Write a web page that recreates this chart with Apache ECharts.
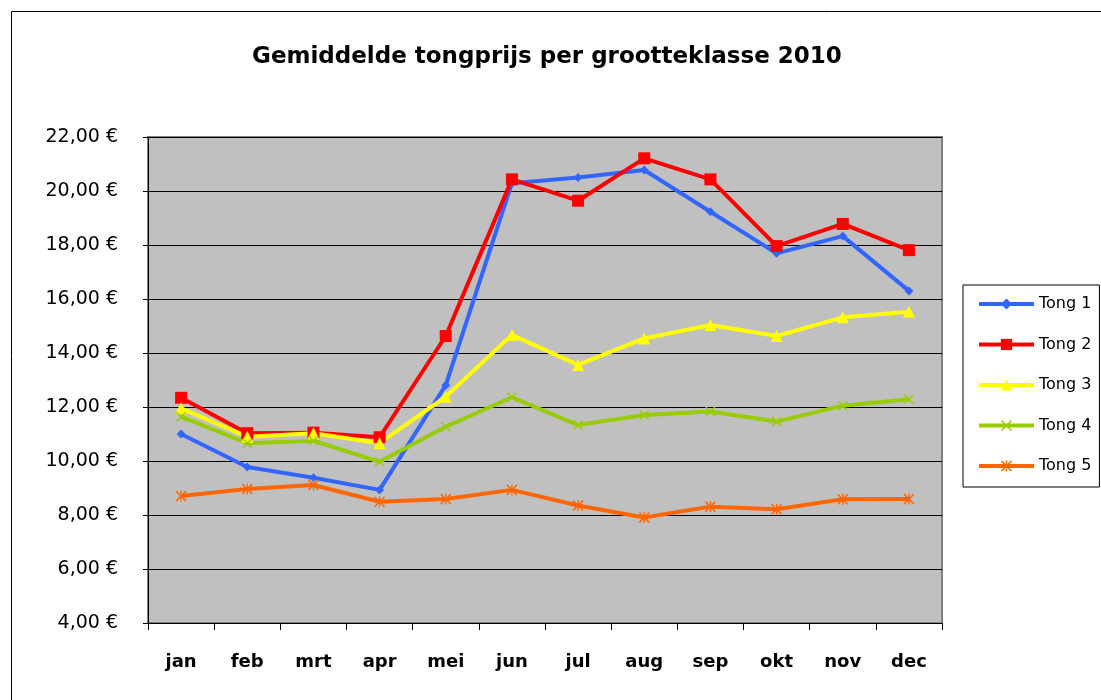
<!DOCTYPE html>
<html>
<head>
<meta charset="utf-8">
<script src="https://cdn.jsdelivr.net/npm/echarts@6/dist/echarts.min.js"></script>
<style>
  html, body { margin: 0; padding: 0; background: #fff; }
  #chart { width: 1101px; height: 700px; }
</style>
</head>
<body>
<div id="chart"></div>
<script>
var months = ['jan', 'feb', 'mrt', 'apr', 'mei', 'jun', 'jul', 'aug', 'sep', 'okt', 'nov', 'dec'];
var seriesNames = ['Tong 1', 'Tong 2', 'Tong 3', 'Tong 4', 'Tong 5'];
var tong1 = [11.00, 9.78, 9.38, 8.93, 12.81, 20.29, 20.50, 20.78, 19.23, 17.69, 18.33, 16.30];
var tong2 = [12.34, 11.03, 11.05, 10.88, 14.63, 20.43, 19.64, 21.21, 20.43, 17.96, 18.78, 17.81];
var tong3 = [11.95, 10.90, 11.03, 10.66, 12.38, 14.67, 13.56, 14.54, 15.04, 14.63, 15.32, 15.53];
var tong4 = [11.64, 10.66, 10.75, 9.97, 11.27, 12.36, 11.33, 11.70, 11.83, 11.46, 12.05, 12.29];
var tong5 = [8.70, 8.96, 9.11, 8.49, 8.59, 8.93, 8.35, 7.91, 8.31, 8.21, 8.58, 8.59];

var font = '"DejaVu Sans", sans-serif';
// x en asterisk markers als dunne polygonen
var crossPath = 'path://M0,1L1,0L5,4L9,0L10,1L6,5L10,9L9,10L5,6L1,10L0,9L4,5Z';
var starPath = 'path://M0,1L1,0L5,4L9,0L10,1L6,5L10,9L9,10L5,6L1,10L0,9L4,5Z M4.4,0L5.6,0L5.6,10L4.4,10Z';

function makeSeries(name, data, color, symbol, size) {
    return {
        name: name,
        type: 'line',
        data: data,
        symbol: symbol,
        symbolSize: size,
        showAllSymbol: true,
        lineStyle: { color: color, width: 4 },
        itemStyle: { color: color },
        emphasis: { disabled: true }
    };
}

var chart = echarts.init(document.getElementById('chart'));
var option = {
    animation: false,
    textStyle: { fontFamily: font },
    title: {
        text: 'Gemiddelde tongprijs per grootteklasse 2010',
        left: 247,
        top: 41,
        textStyle: { fontSize: 23, fontWeight: 'bold', color: '#000', fontFamily: font }
    },
    graphic: [{
        type: 'rect',
        shape: { x: 11.5, y: 11.5, width: 1200, height: 800 },
        style: { fill: 'none', stroke: '#000', lineWidth: 1 },
        silent: true
    }],
    legend: {
        data: seriesNames,
        orient: 'vertical',
        left: 963,
        top: 285,
        padding: [11, 8, 13, 14],
        itemWidth: 55,
        itemHeight: 14,
        itemGap: 24.5,
        borderColor: '#000',
        borderWidth: 1,
        lineStyle: { width: 4 },
        textStyle: { fontSize: 16, color: '#000', fontFamily: font }
    },
    grid: {
        left: 148,
        top: 137,
        width: 794,
        height: 486,
        show: true,
        backgroundColor: '#C0C0C0',
        borderColor: '#808080',
        borderWidth: 2
    },
    xAxis: {
        type: 'category',
        data: months,
        boundaryGap: true,
        axisLine: { lineStyle: { color: '#000', width: 1 } },
        axisTick: { show: true, interval: 0, length: 7, lineStyle: { color: '#000' } },
        axisLabel: { margin: 30, fontSize: 18, fontWeight: 'bold', color: '#000', fontFamily: font }
    },
    yAxis: {
        type: 'value',
        min: 4,
        max: 22,
        interval: 2,
        axisLine: { show: true, lineStyle: { color: '#000', width: 1 } },
        axisTick: { show: true, length: 5, lineStyle: { color: '#000' } },
        splitLine: { lineStyle: { color: '#000', width: 1 } },
        axisLabel: {
            margin: 30,
            fontSize: 19,
            color: '#000',
            fontFamily: font,
            formatter: function (v) { return v.toFixed(2).replace('.', ',') + ' €'; }
        }
    },
    series: [
        makeSeries('Tong 1', tong1, '#3366FF', 'diamond', 9),
        makeSeries('Tong 2', tong2, '#FF0000', 'rect', 12),
        makeSeries('Tong 3', tong3, '#FFFF00', 'triangle', 12),
        makeSeries('Tong 4', tong4, '#99CC00', crossPath, 10),
        makeSeries('Tong 5', tong5, '#FF6600', starPath, 11)
    ]
};
option && chart.setOption(option);
</script>
</body>
</html>
